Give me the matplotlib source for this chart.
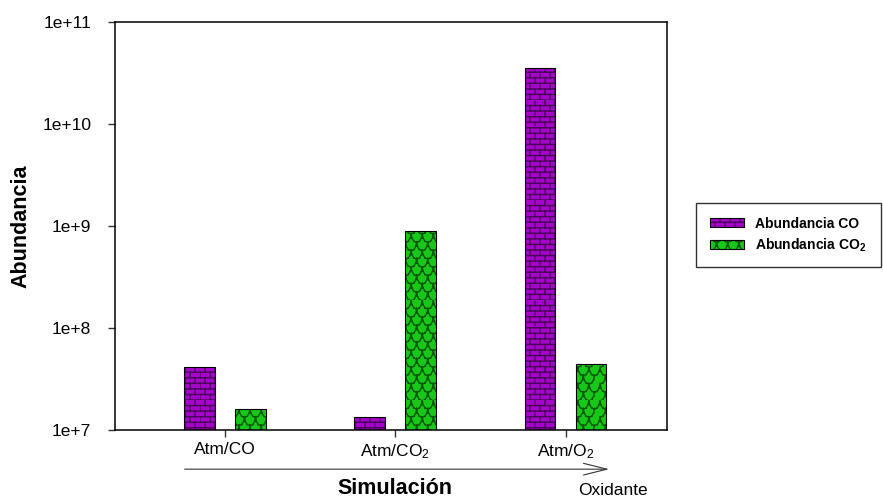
import warnings
import numpy as np
import matplotlib
matplotlib.use('Agg')
import matplotlib.pyplot as plt
import matplotlib.hatch as mhatch
from matplotlib.path import Path
from matplotlib.ticker import FixedLocator, FuncFormatter, NullLocator

warnings.filterwarnings('ignore')

plt.rcParams['font.family'] = ['Liberation Sans', 'DejaVu Sans']
plt.rcParams['mathtext.fontset'] = 'custom'
plt.rcParams['mathtext.rm'] = 'Liberation Sans'
plt.rcParams['mathtext.bf'] = 'Liberation Sans:bold'
plt.rcParams['mathtext.default'] = 'regular'
plt.rcParams['hatch.linewidth'] = 1.0

categories = ['Atm/CO', 'Atm/CO$_2$', 'Atm/O$_2$']
abund_co = [4.15e7, 1.33e7, 3.55e10]
abund_co2 = [1.6e7, 8.9e8, 4.4e7]


# brick wall pattern, drawn for hatch char 'b'
class BrickHatch(mhatch.HatchPatternBase):
    def __init__(self, hatch, density):
        self.rows = int(hatch.count('b') * density)
        self.cols = 10
        self.num_vertices = (self.rows + self.rows * self.cols) * 2

    def set_vertices_and_codes(self, vertices, codes):
        h = 1.0 / self.rows
        w = 1.0 / self.cols
        k = 0
        for r in range(self.rows):
            y = r * h
            vertices[k] = (0.0, y)
            vertices[k + 1] = (1.0, y)
            k += 2
            off = 0.0 if r % 2 == 0 else w / 2
            for c in range(self.cols):
                xx = c * w + off
                vertices[k] = (xx, y)
                vertices[k + 1] = (xx, y + h)
                k += 2
        codes[0::2] = Path.MOVETO
        codes[1::2] = Path.LINETO


# overlapping scales, drawn for hatch char 'w' (separate segments so agg won't fill them)
class ScaleHatch(mhatch.HatchPatternBase):
    def __init__(self, hatch, density):
        self.rows = int(hatch.count('w') * density)
        self.cols = 9
        self.seg = 6
        self.num_vertices = self.rows * self.cols * self.seg * 2

    def set_vertices_and_codes(self, vertices, codes):
        h = 1.0 / self.rows
        w = 1.0 / self.cols
        t = np.linspace(np.pi, 2 * np.pi, self.seg + 1)
        k = 0
        for r in range(self.rows):
            off = 0.0 if r % 2 == 0 else w / 2
            for c in range(self.cols):
                cx = c * w + off
                cy = r * h + h
                px = cx + 0.5 * w * np.cos(t)
                py = cy + 1.1 * h * np.sin(t)
                for i in range(self.seg):
                    vertices[k] = (px[i], py[i])
                    vertices[k + 1] = (px[i + 1], py[i + 1])
                    k += 2
        codes[0::2] = Path.MOVETO
        codes[1::2] = Path.LINETO


mhatch._hatch_types.append(BrickHatch)
mhatch._hatch_types.append(ScaleHatch)

purple = '#a500cc'
purple_dark = '#4a0058'
green = '#18c818'
green_dark = '#0a5a0a'

fig = plt.figure(figsize=(8.83, 4.97), dpi=100)
ax = fig.add_axes([0.130, 0.135, 0.625, 0.821])

x = np.arange(len(categories))
width = 0.18
b1 = ax.bar(x - 0.15, abund_co, width, color=purple, edgecolor='black',
            linewidth=0.8, hatch='bbb', label='Abundancia CO')
b2 = ax.bar(x + 0.15, abund_co2, width, color=green, edgecolor='black',
            linewidth=0.8, hatch='ww', label='Abundancia CO$_\\mathbf{2}$')
for p in b1:
    p._hatch_color = matplotlib.colors.to_rgba(purple_dark)
for p in b2:
    p._hatch_color = matplotlib.colors.to_rgba(green_dark)

ax.set_yscale('log')
ax.set_ylim(1e7, 1e11)
ax.set_xlim(-0.647, 2.594)
ax.yaxis.set_major_locator(FixedLocator([1e7, 1e8, 1e9, 1e10, 1e11]))
ax.yaxis.set_minor_locator(NullLocator())
ax.yaxis.set_major_formatter(FuncFormatter(lambda v, p: '1e+%d' % round(np.log10(v))))
ax.set_xticks(x)
ax.set_xticklabels(categories)
ax.tick_params(axis='both', labelsize=12.5, direction='out', length=5, width=1, color='#333333')
ax.tick_params(axis='y', pad=12)
ax.tick_params(axis='x', pad=4)
for s in ax.spines.values():
    s.set_linewidth(1.1)

ax.set_ylabel('Abundancia', fontsize=15.5, fontweight='bold', labelpad=8)
fig.text(0.447, 0.018, 'Simulación', fontsize=15.5, fontweight='bold', ha='center', va='center')
fig.text(0.694, 0.014, 'Oxidante', fontsize=12.5, ha='center', va='center')

fig.patches.append(matplotlib.patches.FancyArrowPatch(
    (0.206, 0.056), (0.693, 0.056), transform=fig.transFigure,
    arrowstyle='->,head_length=1.4,head_width=0.35', mutation_scale=12,
    linewidth=0.8, color='#333333'))

leg = fig.legend(handles=[b1, b2], loc='upper left', bbox_to_anchor=(0.780, 0.606),
                 prop={'weight': 'bold', 'size': 10}, frameon=True, fancybox=False,
                 edgecolor='black', handlelength=2.5, handleheight=0.6,
                 borderpad=1.0, labelspacing=0.4, handletextpad=0.8)
leg.get_frame().set_linewidth(1.0)

fig.savefig('out.png', dpi=100)
